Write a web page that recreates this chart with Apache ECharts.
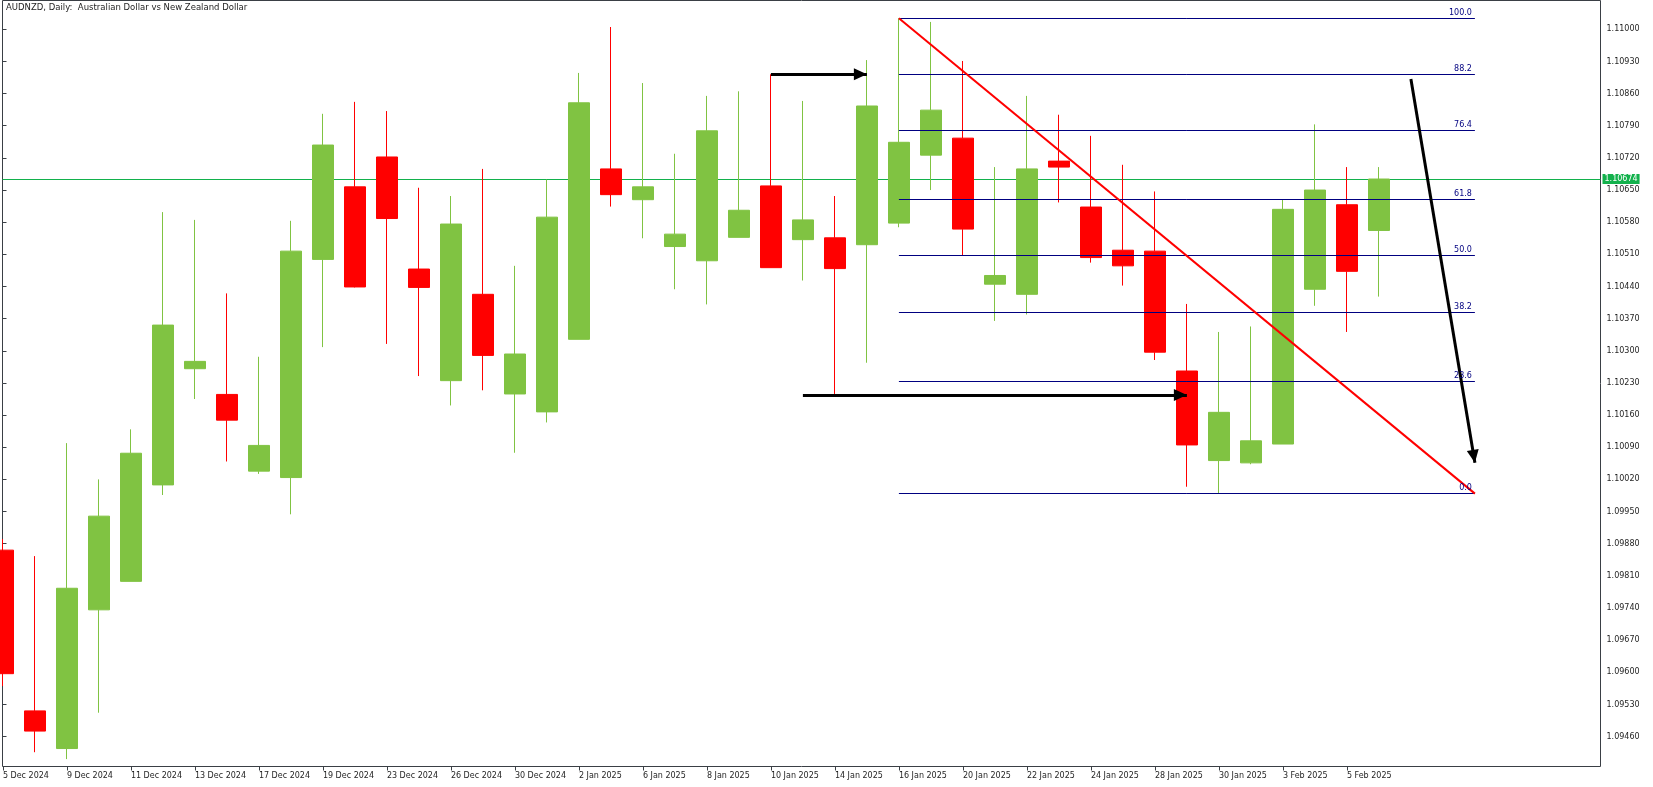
<!DOCTYPE html>
<html>
<head>
<meta charset="utf-8">
<script src="https://cdn.jsdelivr.net/npm/echarts@6/dist/echarts.min.js"></script>
<style>html,body{margin:0;padding:0;background:#ffffff}#c{width:1653px;height:787px}</style>
</head>
<body>
<div id="c"></div>
<script>
// ---- data ----
const dates = ['5 Dec 2024','6 Dec 2024','9 Dec 2024','10 Dec 2024','11 Dec 2024','12 Dec 2024','13 Dec 2024','16 Dec 2024','17 Dec 2024','18 Dec 2024','19 Dec 2024','20 Dec 2024','23 Dec 2024','24 Dec 2024','26 Dec 2024','27 Dec 2024','30 Dec 2024','31 Dec 2024','2 Jan 2025','3 Jan 2025','6 Jan 2025','7 Jan 2025','8 Jan 2025','9 Jan 2025','10 Jan 2025','13 Jan 2025','14 Jan 2025','15 Jan 2025','16 Jan 2025','17 Jan 2025','20 Jan 2025','21 Jan 2025','22 Jan 2025','23 Jan 2025','24 Jan 2025','27 Jan 2025','28 Jan 2025','29 Jan 2025','30 Jan 2025','31 Jan 2025','3 Feb 2025','4 Feb 2025','5 Feb 2025','6 Feb 2025'];
const open  = [1.09866,1.09516,1.09434,1.09736,1.09798,1.10008,1.10261,1.10205,1.10038,1.10024,1.10499,1.10657,1.10722,1.10478,1.10235,1.10423,1.10206,1.10167,1.10325,1.10696,1.10629,1.10527,1.10496,1.10547,1.10659,1.10542,1.10546,1.10531,1.10578,1.10726,1.10763,1.10445,1.10423,1.10713,1.10613,1.10519,1.10517,1.10256,1.10061,1.10056,1.10097,1.10434,1.10618,1.10562];
const high  = [1.09890,1.09853,1.10099,1.10020,1.10129,1.10602,1.10585,1.10425,1.10287,1.10583,1.10816,1.10842,1.10822,1.10655,1.10637,1.10696,1.10485,1.10673,1.10905,1.11005,1.10883,1.10729,1.10855,1.10865,1.10902,1.10844,1.10637,1.10933,1.11024,1.11016,1.10931,1.10700,1.10855,1.10814,1.10768,1.10705,1.10647,1.10402,1.10341,1.10353,1.10630,1.10793,1.10700,1.10700];
const low   = [1.09570,1.09426,1.09411,1.09512,1.09798,1.09986,1.10195,1.10059,1.10032,1.09944,1.10308,1.10438,1.10315,1.10245,1.10181,1.10214,1.10078,1.10144,1.10325,1.10614,1.10545,1.10434,1.10401,1.10547,1.10481,1.10453,1.10206,1.10274,1.10569,1.10650,1.10508,1.10365,1.10379,1.10623,1.10492,1.10442,1.10280,1.10004,1.09989,1.10053,1.10097,1.10398,1.10341,1.10418];
const close = [1.09597,1.09472,1.09783,1.09940,1.10077,1.10356,1.10277,1.10149,1.10094,1.10517,1.10748,1.10439,1.10588,1.10438,1.10576,1.10290,1.10293,1.10591,1.10840,1.10640,1.10657,1.10554,1.10779,1.10606,1.10481,1.10585,1.10479,1.10833,1.10754,1.10824,1.10565,1.10464,1.10696,1.10700,1.10503,1.10485,1.10297,1.10095,1.10166,1.10104,1.10608,1.10650,1.10473,1.10674];
const emptySlots = 6;
const yTicks = [1.09460,1.09530,1.09600,1.09670,1.09740,1.09810,1.09880,1.09950,1.10020,1.10090,1.10160,1.10230,1.10300,1.10370,1.10440,1.10510,1.10580,1.10650,1.10720,1.10790,1.10860,1.10930,1.11000];
const yMin = 1.093949, yMax = 1.110627;
const fibLevels = [0, 23.6, 38.2, 50.0, 61.8, 76.4, 88.2, 100.0];
const fibFromIdx = 28, fibLowIdx = 38, fibEndIdx = 46;
const arrowLines = [
  [[24, 1.10902], [27, 1.10902]],
  [[25, 1.10204], [37, 1.10204]],
  [[44, 1.10892], [46, 1.10056]]
];
const title = 'AUDNZD, Daily:  Australian Dollar vs New Zealand Dollar';

// ---- build ----
const FONT = 'DejaVu Sans';
const AXC = '#3a3f45';
const GREEN = '#80c342', RED = '#ff0000', NAVY = '#000080', PRICE = '#12b14c';
const cats = dates.concat(new Array(emptySlots).fill(''));
const candles = dates.map((d, i) => [open[i], close[i], low[i], high[i]]);
const lastClose = close[close.length - 1];
const fibHi = high[fibFromIdx], fibLo = low[fibLowIdx];
const fibValues = fibLevels.map(l => fibLo + (fibHi - fibLo) * l / 100);

const chart = echarts.init(document.getElementById('c'), null, {renderer: 'canvas'});
const catW = 32;
const plotTop = 0.5, plotH = 766;

function buildOption(snap) {
  // snap(v) returns value nudged so a 1px horizontal line falls on a pixel row (crisp rendering)
  return {
    animation: false,
    backgroundColor: '#ffffff',
    textStyle: {fontFamily: FONT},
    title: {text: title, left: 6, top: 3, padding: 0,
      textStyle: {fontSize: 8.5, fontWeight: 'normal', color: '#1e1e1e', fontFamily: FONT}},
    grid: [
      {left: 2.9 - catW / 2, top: plotTop, width: catW * cats.length, height: plotH, outerBoundsMode: 'none', containLabel: false},
      {left: 2.5, top: plotTop, width: 1598, height: plotH, show: true, borderColor: AXC, borderWidth: 1, backgroundColor: 'transparent', outerBoundsMode: 'none', containLabel: false}
    ],
    xAxis: [
      {type: 'category', gridIndex: 0, data: cats, boundaryGap: true,
       axisLine: {show: false},
       axisTick: {show: true, alignWithLabel: true, length: 4, lineStyle: {color: AXC},
         interval: (i, v) => i % 2 === 0 && v !== ''},
       axisLabel: {show: true, interval: (i, v) => i % 2 === 0 && v !== '', align: 'left', margin: 5,
         fontSize: 8, color: '#1e1e1e', fontFamily: FONT},
       splitLine: {show: false}},
      {type: 'value', gridIndex: 1, min: 0, max: 1, show: false}
    ],
    yAxis: [
      {type: 'value', gridIndex: 0, min: yMin, max: yMax, show: false, splitLine: {show: false}},
      {type: 'value', gridIndex: 1, min: yMin, max: yMax, position: 'right',
       axisLine: {show: false}, splitLine: {show: false},
       axisTick: {show: true, length: 4, inside: false, lineStyle: {color: AXC}, customValues: yTicks},
       axisLabel: {show: true, customValues: yTicks, margin: 6, fontSize: 8, color: '#1e1e1e', fontFamily: FONT,
         formatter: v => v.toFixed(5)}},
      {type: 'value', gridIndex: 1, min: yMin, max: yMax, position: 'right',
       axisLine: {show: false}, splitLine: {show: false}, axisTick: {show: false},
       axisLabel: {show: true, customValues: [lastClose], margin: 2, fontSize: 8, color: '#ffffff', fontFamily: FONT,
         backgroundColor: PRICE, padding: [1, 2, 0, 2], lineHeight: 9, formatter: v => lastClose.toFixed(5)}}
    ],
    series: [
      {type: 'line', name: 'price', xAxisIndex: 1, yAxisIndex: 1, z: 1, silent: true,
       data: [[0, snap(lastClose)], [1, snap(lastClose)]], symbol: 'none',
       lineStyle: {color: PRICE, width: 1}},
      {type: 'candlestick', name: 'AUDNZD', xAxisIndex: 0, yAxisIndex: 0, z: 2, barWidth: 22, silent: true,
       data: candles,
       itemStyle: {color: GREEN, color0: RED, borderColor: GREEN, borderColor0: RED, borderWidth: 1}},
      {type: 'line', name: 'fib', xAxisIndex: 0, yAxisIndex: 0, data: [], z: 3, silent: true,
       markLine: {silent: true, symbol: 'none', animation: false,
         lineStyle: {color: NAVY, width: 1, type: 'solid'},
         label: {show: true, position: 'insideEndTop', distance: [3, 2], color: NAVY, fontSize: 8, fontFamily: FONT, formatter: '{b}'},
         emphasis: {disabled: true},
         data: fibLevels.map((l, k) => {
           const v = snap(fibValues[k]);
           return [{coord: [fibFromIdx, v], name: l.toFixed(1)}, {coord: [fibEndIdx, v]}];
         })}},
      {type: 'line', name: 'trend', xAxisIndex: 0, yAxisIndex: 0, data: [], z: 4, silent: true,
       markLine: {silent: true, symbol: 'none', animation: false,
         lineStyle: {color: RED, width: 2, type: 'solid'}, label: {show: false},
         emphasis: {disabled: true},
         data: [[{coord: [fibFromIdx, fibHi]}, {coord: [fibEndIdx, fibLo]}]]}},
      {type: 'line', name: 'arrows', xAxisIndex: 0, yAxisIndex: 0, data: [], z: 5, silent: true,
       markLine: {silent: true, symbol: ['none', 'triangle'], symbolSize: [12, 13], symbolOffset: [0, [0, 6.5]],
         animation: false,
         lineStyle: {color: '#000000', width: 3, type: 'solid'}, label: {show: false},
         emphasis: {disabled: true},
         data: arrowLines.map(a => [{coord: a[0]}, {coord: a[1]}])}}
    ]
  };
}

chart.setOption(buildOption(v => v));
// pixel-snap thin horizontal lines using the chart's own scale
const snapFn = v => {
  const py = chart.convertToPixel({yAxisIndex: 0}, v);
  if (py == null || isNaN(py)) return v;
  const target = Math.floor(py) + 0.5;
  return chart.convertFromPixel({yAxisIndex: 0}, target);
};
chart.setOption(buildOption(snapFn), {notMerge: true});
</script>
</body>
</html>
